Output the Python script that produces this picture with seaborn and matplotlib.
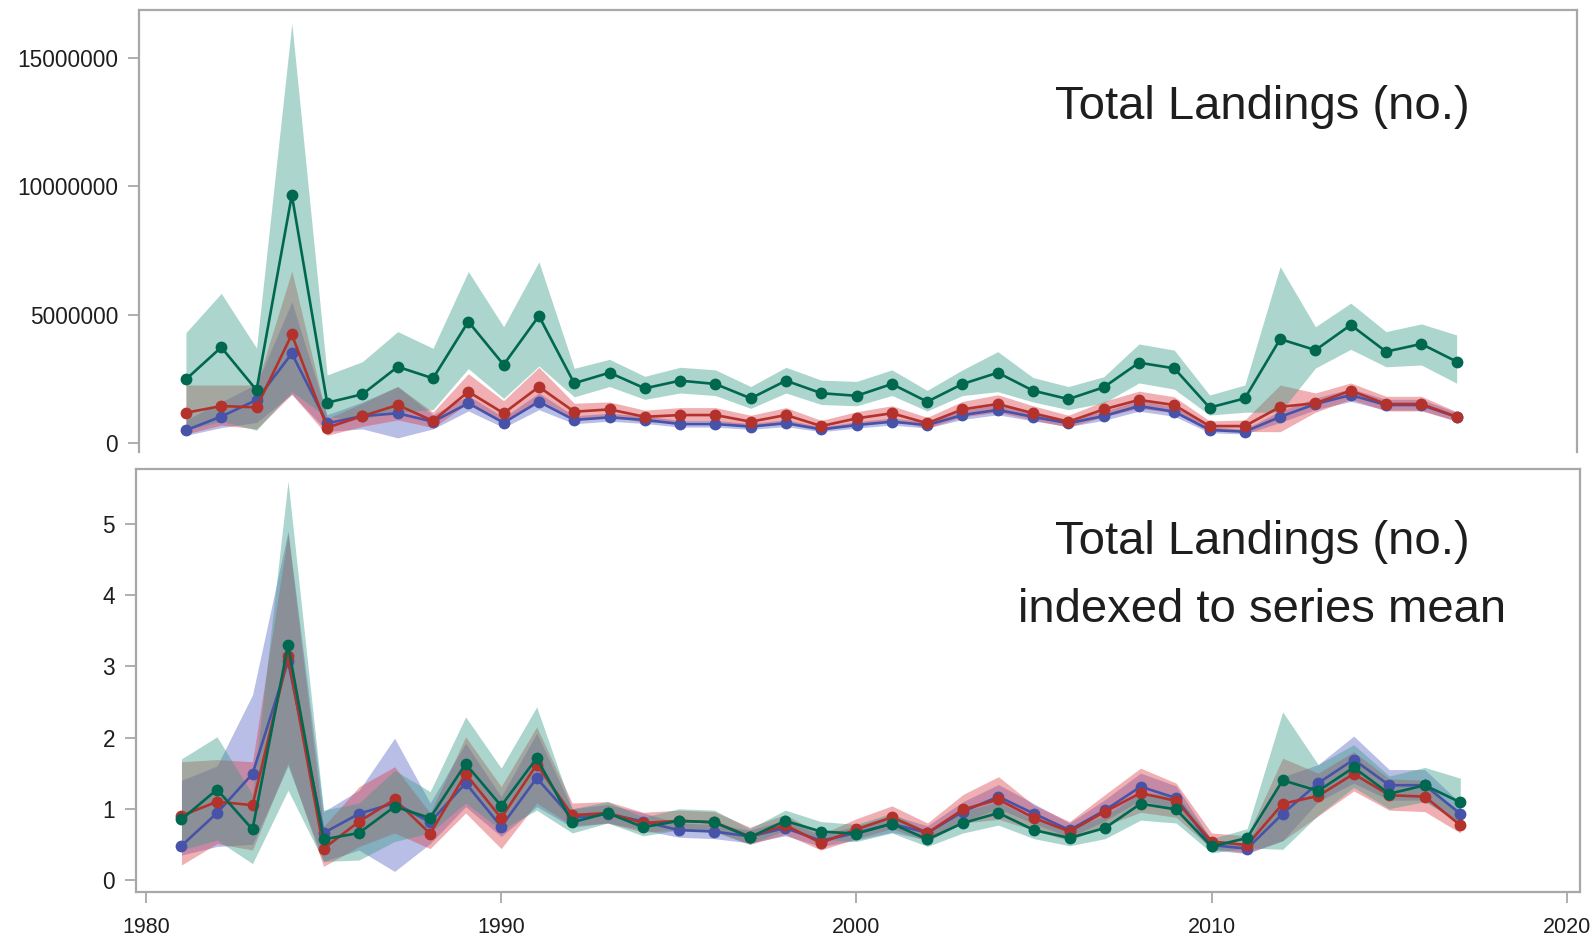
import numpy as np
import pandas as pd
import matplotlib
matplotlib.use("Agg")
import matplotlib.pyplot as plt
import seaborn as sns

# ---------------------------------------------------------------- data
years = list(range(1981, 2018))

# Total landings (numbers, millions), three estimates with their intervals
land_green = [2.48, 3.73, 2.06, 9.66, 1.57, 1.90, 2.97, 2.52, 4.73, 3.05, 4.95,
              2.33, 2.74, 2.13, 2.43, 2.30, 1.74, 2.43, 1.94, 1.84, 2.30, 1.61,
              2.30, 2.74, 2.04, 1.71, 2.17, 3.13, 2.91, 1.38, 1.74, 4.05, 3.62,
              4.60, 3.56, 3.86, 3.17]
land_green_lo = [0.50, 0.85, 0.50, 2.00, 1.00, 0.95, 1.20, 1.30, 2.90, 1.74, 3.00,
                 1.80, 2.20, 1.70, 1.95, 1.85, 1.35, 1.95, 1.50, 1.45, 1.85, 1.25,
                 1.85, 2.00, 1.60, 1.30, 1.56, 2.34, 2.10, 1.09, 1.20, 1.20, 2.92,
                 3.65, 2.97, 3.04, 2.33]
land_green_hi = [4.30, 5.83, 3.70, 16.35, 2.65, 3.17, 4.34, 3.69, 6.68, 4.53, 7.06,
                 2.91, 3.26, 2.60, 2.95, 2.85, 2.20, 2.95, 2.45, 2.40, 2.85, 2.05,
                 2.85, 3.56, 2.55, 2.20, 2.58, 3.86, 3.62, 1.87, 2.26, 6.87, 4.53,
                 5.45, 4.34, 4.64, 4.21]

land_red = [1.18, 1.44, 1.39, 4.23, 0.60, 1.05, 1.48, 0.86, 2.00, 1.16, 2.19,
            1.22, 1.31, 1.02, 1.09, 1.09, 0.83, 1.09, 0.66, 0.96, 1.16, 0.77,
            1.31, 1.52, 1.16, 0.83, 1.31, 1.68, 1.48, 0.66, 0.66, 1.41, 1.55,
            2.04, 1.52, 1.52, 1.02]
land_red_lo = [0.35, 0.70, 0.55, 1.90, 0.30, 0.65, 0.90, 0.60, 1.55, 0.75, 1.70,
               0.95, 1.05, 0.80, 0.85, 0.85, 0.62, 0.85, 0.48, 0.72, 0.90, 0.58,
               1.02, 1.20, 0.90, 0.62, 1.02, 1.35, 1.18, 0.48, 0.45, 0.44, 1.20,
               1.70, 1.25, 1.25, 0.85]
land_red_hi = [2.26, 2.26, 2.26, 6.70, 0.95, 1.55, 2.20, 1.20, 2.70, 1.65, 2.95,
               1.55, 1.60, 1.28, 1.38, 1.38, 1.08, 1.38, 0.88, 1.22, 1.45, 1.00,
               1.62, 1.88, 1.45, 1.08, 1.62, 2.02, 1.80, 0.86, 0.90, 2.26, 1.95,
               2.34, 1.82, 1.82, 1.22]

land_blue = [0.50, 1.03, 1.68, 3.49, 0.77, 1.05, 1.16, 0.83, 1.55, 0.79, 1.61,
             0.90, 1.00, 0.90, 0.74, 0.74, 0.64, 0.77, 0.53, 0.70, 0.83, 0.70,
             1.09, 1.29, 1.02, 0.77, 1.05, 1.44, 1.22, 0.51, 0.44, 1.02, 1.52,
             1.87, 1.48, 1.48, 1.02]
land_blue_lo = [0.30, 0.60, 0.80, 1.90, 0.45, 0.55, 0.20, 0.55, 1.25, 0.60, 1.30,
                0.75, 0.85, 0.76, 0.62, 0.62, 0.53, 0.64, 0.44, 0.58, 0.70, 0.58,
                0.92, 1.10, 0.86, 0.64, 0.88, 1.24, 1.04, 0.40, 0.35, 0.80, 1.30,
                1.62, 1.28, 1.28, 0.86]
land_blue_hi = [0.90, 1.60, 2.30, 5.50, 1.10, 1.60, 2.20, 1.10, 1.85, 1.00, 1.95,
                1.06, 1.16, 1.05, 0.88, 0.88, 0.76, 0.91, 0.63, 0.83, 0.97, 0.83,
                1.27, 1.50, 1.19, 0.91, 1.23, 1.66, 1.41, 0.63, 0.54, 1.25, 1.75,
                2.12, 1.70, 1.70, 1.19]

# Landings indexed to each series' mean
idx_green = [0.85, 1.27, 0.71, 3.30, 0.57, 0.66, 1.03, 0.87, 1.63, 1.04, 1.71,
             0.81, 0.94, 0.74, 0.83, 0.81, 0.60, 0.83, 0.68, 0.65, 0.79, 0.57,
             0.80, 0.94, 0.70, 0.59, 0.73, 1.07, 0.99, 0.47, 0.59, 1.40, 1.25,
             1.58, 1.21, 1.33, 1.09]
idx_green_lo = [0.42, 0.56, 0.23, 1.26, 0.26, 0.28, 0.54, 0.66, 1.08, 0.70, 0.98,
                0.66, 0.80, 0.62, 0.70, 0.68, 0.50, 0.70, 0.57, 0.54, 0.66, 0.47,
                0.66, 0.77, 0.58, 0.48, 0.58, 0.84, 0.80, 0.38, 0.45, 0.43, 0.91,
                1.30, 1.00, 1.10, 0.80]
idx_green_hi = [1.70, 2.01, 1.20, 5.60, 0.98, 1.08, 1.54, 1.24, 2.29, 1.57, 2.43,
                1.00, 1.10, 0.88, 1.00, 0.98, 0.72, 0.98, 0.82, 0.78, 0.94, 0.68,
                0.96, 1.10, 0.84, 0.72, 0.90, 1.22, 1.20, 0.58, 0.72, 2.36, 1.62,
                1.90, 1.46, 1.58, 1.43]

idx_red = [0.90, 1.10, 1.05, 3.14, 0.44, 0.82, 1.13, 0.65, 1.49, 0.87, 1.62,
           0.91, 0.94, 0.80, 0.83, 0.81, 0.61, 0.77, 0.52, 0.71, 0.88, 0.66,
           0.99, 1.13, 0.87, 0.68, 0.96, 1.22, 1.11, 0.54, 0.49, 1.07, 1.18,
           1.49, 1.19, 1.17, 0.77]
idx_red_lo = [0.21, 0.51, 0.42, 1.64, 0.19, 0.47, 0.66, 0.44, 0.94, 0.44, 1.08,
              0.76, 0.80, 0.67, 0.70, 0.68, 0.50, 0.64, 0.42, 0.58, 0.72, 0.54,
              0.80, 0.85, 0.70, 0.55, 0.76, 0.95, 0.88, 0.44, 0.38, 0.55, 0.90,
              1.25, 0.98, 0.96, 0.66]
idx_red_hi = [1.66, 1.69, 1.66, 4.87, 0.75, 1.31, 1.59, 0.94, 2.01, 1.31, 2.15,
              1.08, 1.10, 0.95, 0.98, 0.96, 0.74, 0.92, 0.64, 0.86, 1.04, 0.80,
              1.20, 1.45, 1.05, 0.82, 1.20, 1.57, 1.36, 0.66, 0.62, 1.71, 1.50,
              1.80, 1.42, 1.40, 0.90]

idx_blue = [0.48, 0.94, 1.49, 3.07, 0.66, 0.93, 1.08, 0.81, 1.36, 0.75, 1.43,
            0.87, 0.93, 0.82, 0.70, 0.68, 0.61, 0.73, 0.55, 0.66, 0.79, 0.66,
            0.96, 1.17, 0.93, 0.70, 0.98, 1.31, 1.15, 0.49, 0.44, 0.93, 1.36,
            1.69, 1.33, 1.33, 0.93]
idx_blue_lo = [0.35, 0.47, 0.50, 1.60, 0.26, 0.42, 0.12, 0.51, 1.03, 0.61, 1.03,
               0.74, 0.80, 0.70, 0.60, 0.58, 0.52, 0.62, 0.47, 0.56, 0.67, 0.56,
               0.82, 1.00, 0.79, 0.60, 0.83, 1.12, 0.98, 0.42, 0.37, 0.55, 1.10,
               1.36, 1.12, 1.12, 0.78]
idx_blue_hi = [1.40, 1.60, 2.60, 4.90, 0.96, 1.26, 1.99, 1.08, 1.92, 1.17, 2.06,
               1.00, 1.06, 0.94, 0.80, 0.78, 0.70, 0.84, 0.63, 0.76, 0.91, 0.76,
               1.10, 1.34, 1.07, 0.80, 1.13, 1.50, 1.32, 0.56, 0.51, 1.45, 1.62,
               2.02, 1.55, 1.55, 1.08]

top_yticks = [0, 5000000, 10000000, 15000000]
top_yticklabels = ["0", "5000000", "10000000", "15000000"]
bot_yticks = [0, 1, 2, 3, 4, 5]
bot_xticks = [1980, 1990, 2000, 2010, 2020]
top_title = "Total Landings (no.)"
bot_title = "Total Landings (no.)\nindexed to series mean"

# ---------------------------------------------------------------- style
sns.set_theme(style="white")
plt.rcParams["font.family"] = ["Liberation Sans", "DejaVu Sans"]

line_col = {"blue": "#4653a8", "red": "#b3332c", "green": "#00684f"}
band_col = {"blue": "#5a64c8", "red": "#d9414a", "green": "#3a9c88"}
order = ["blue", "red", "green"]
spine_col = "#a8a8a8"
text_col = "#1e1e1e"
title_family = ["Liberation Sans Narrow", "Liberation Sans", "DejaVu Sans"]


def long_frame(series):
    rows = []
    for name in order:
        mid, lo, hi = series[name]
        for y, m, l, h in zip(years, mid, lo, hi):
            rows.append({"year": y, "value": m, "lo": l, "hi": h, "series": name})
    return pd.DataFrame(rows)


top_df = long_frame({
    "blue": (land_blue, land_blue_lo, land_blue_hi),
    "red": (land_red, land_red_lo, land_red_hi),
    "green": (land_green, land_green_lo, land_green_hi),
})
for c in ("value", "lo", "hi"):
    top_df[c] = top_df[c] * 1e6

bot_df = long_frame({
    "blue": (idx_blue, idx_blue_lo, idx_blue_hi),
    "red": (idx_red, idx_red_lo, idx_red_hi),
    "green": (idx_green, idx_green_lo, idx_green_hi),
})

W, H = 1593, 939
fig = plt.figure(figsize=(W / 100, H / 100), dpi=100)
ax_top = fig.add_axes([139 / W, (H - 452) / H, (1577 - 139) / W, (452 - 10) / H])
ax_bot = fig.add_axes([136 / W, (H - 892) / H, (1580 - 136) / W, (892 - 469) / H])


def draw_panel(ax, df):
    for name in order:
        d = df[df["series"] == name]
        ax.fill_between(d["year"], d["lo"], d["hi"], color=band_col[name],
                        alpha=0.42, linewidth=0, zorder=1)
    sns.lineplot(data=df, x="year", y="value", hue="series", hue_order=order,
                 palette=line_col, marker="o", markersize=8.5,
                 markeredgewidth=0, linewidth=1.9, errorbar=None,
                 legend=False, ax=ax, zorder=3)
    ax.set_xlabel("")
    ax.set_ylabel("")
    for s in ax.spines.values():
        s.set_color(spine_col)
        s.set_linewidth(1.6)
    ax.tick_params(axis="both", which="major", length=8, width=1.3,
                   color=spine_col, labelcolor=text_col,
                   left=True, bottom=True)
    ax.tick_params(axis="y", labelsize=16.3, pad=7)
    ax.tick_params(axis="x", labelsize=15.5, pad=10)


draw_panel(ax_top, top_df)
ax_top.set_xlim(1979.67, 2020.41)
ax_top.set_ylim(-0.35e6, 16.87e6)
ax_top.set_yticks(top_yticks, top_yticklabels)
ax_top.set_xticks([])
ax_top.spines["bottom"].set_visible(False)
ax_top.text(0.781, 0.78, top_title, transform=ax_top.transAxes,
            ha="center", va="center", fontsize=34, color=text_col,
            family=title_family)

draw_panel(ax_bot, bot_df)
ax_bot.set_xlim(1979.72, 2020.37)
ax_bot.set_ylim(-0.169, 5.77)
ax_bot.set_yticks(bot_yticks, [str(v) for v in bot_yticks])
ax_bot.set_xticks(bot_xticks, [str(v) for v in bot_xticks])
ax_bot.text(0.78, 0.747, bot_title, transform=ax_bot.transAxes,
            ha="center", va="center", fontsize=34, color=text_col,
            linespacing=1.72, family=title_family)

fig.savefig("out.png", dpi=100)
